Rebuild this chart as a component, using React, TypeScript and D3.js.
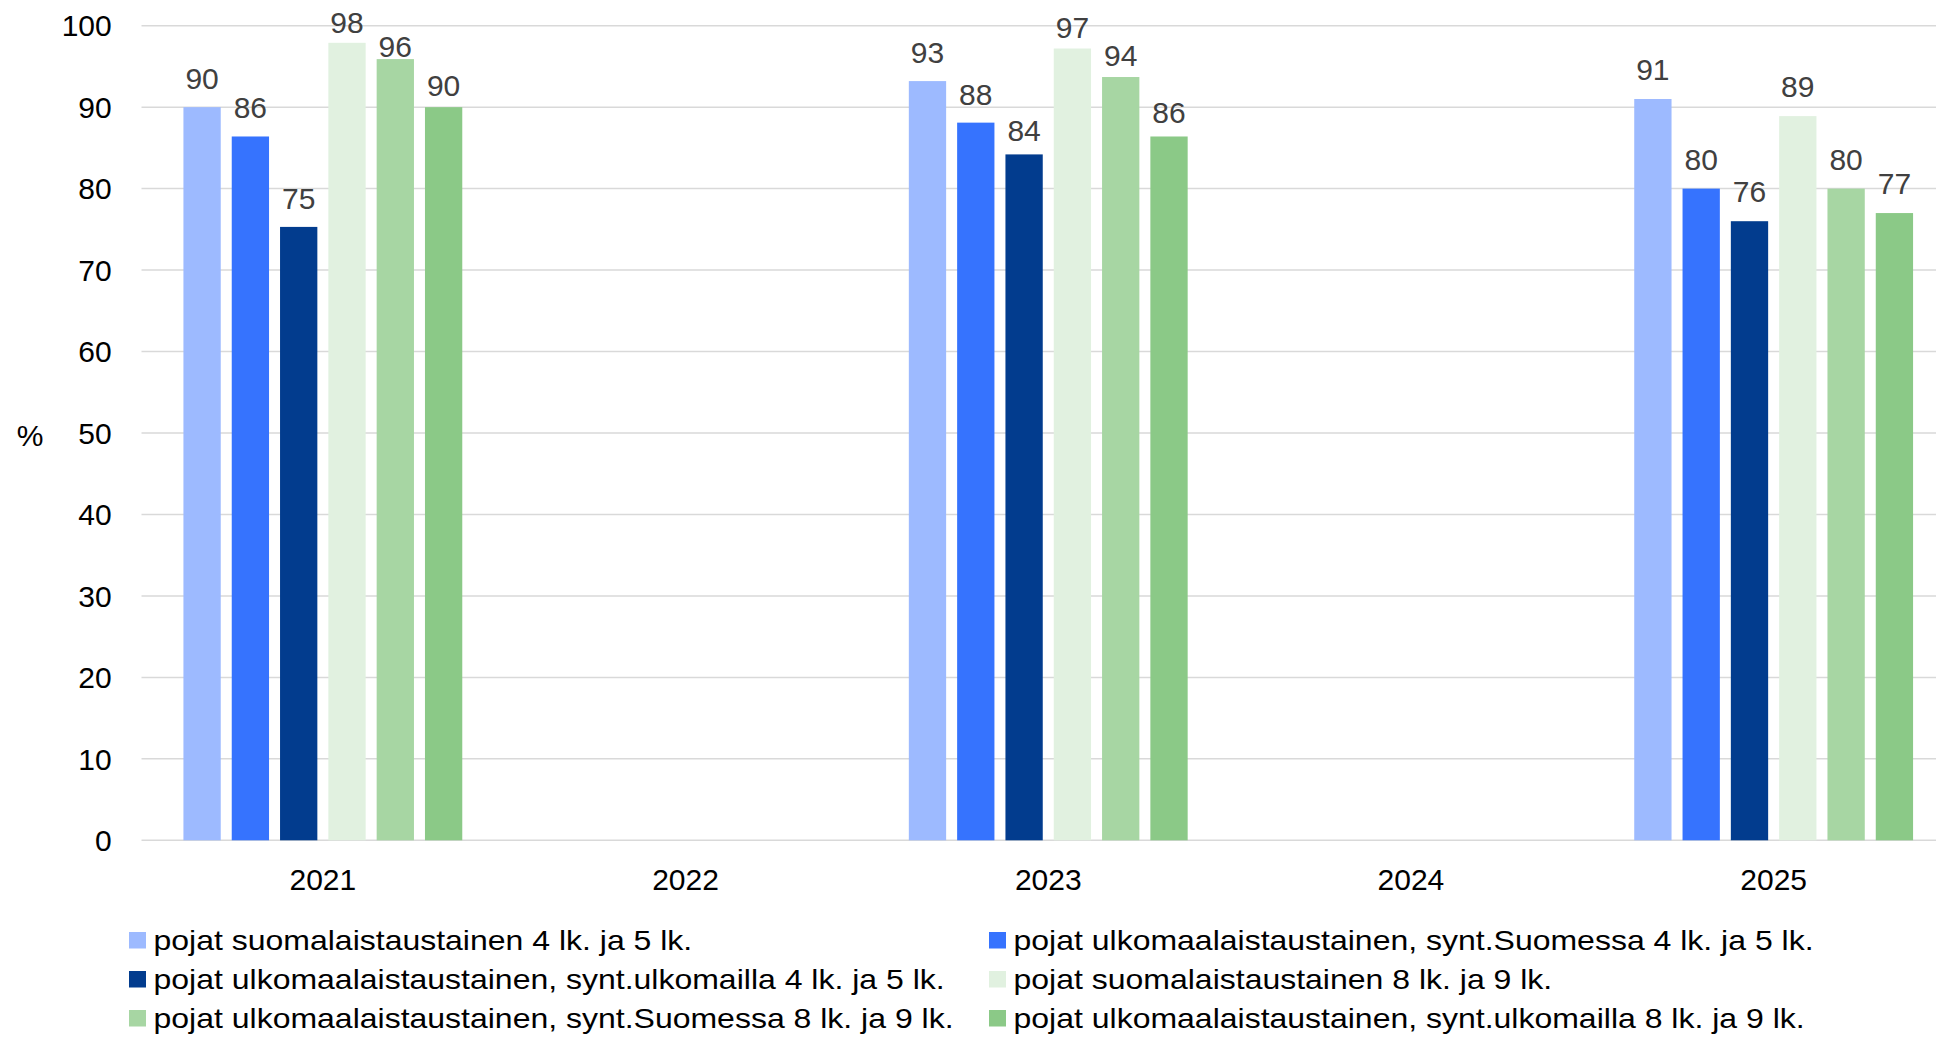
import React from "react";
import * as d3 from "d3";

const years = ["2021", "2022", "2023", "2024", "2025"];
const seriesNames = [
  "pojat suomalaistaustainen 4 lk. ja 5 lk.",
  "pojat ulkomaalaistaustainen, synt.Suomessa 4 lk. ja 5 lk.",
  "pojat ulkomaalaistaustainen, synt.ulkomailla 4 lk. ja 5 lk.",
  "pojat suomalaistaustainen 8 lk. ja 9 lk.",
  "pojat ulkomaalaistaustainen, synt.Suomessa 8 lk. ja 9 lk.",
  "pojat ulkomaalaistaustainen, synt.ulkomailla 8 lk. ja 9 lk.",
];
const colors = ["#9dbaff", "#3673fe", "#023c8e", "#e1f1e0", "#a7d6a3", "#8bc987"];
// values per series, indexed by year (null = no data)
const s1 = [90.0, null, 93.2, null, 91.0];
const s2 = [86.4, null, 88.1, null, 80.0];
const s3 = [75.3, null, 84.2, null, 76.0];
const s4 = [97.9, null, 97.2, null, 88.9];
const s5 = [95.9, null, 93.7, null, 80.0];
const s6 = [90.0, null, 86.4, null, 77.0];
const seriesValues = [s1, s2, s3, s4, s5, s6];
const yTicks = [0, 10, 20, 30, 40, 50, 60, 70, 80, 90, 100];

// label gap (px) between bar top and label baseline, as placed in the reference
const labelGaps = [
  [18, 0, 18, 0, 18.6],
  [18.7, 0, 18, 0, 18.6],
  [18.3, 0, 13.3, 0, 19.4],
  [10, 0, 10.7, 0, 19.3],
  [2.3, 0, 10.7, 0, 18.6],
  [11, 0, 13, 0, 18.7],
];

const W = 1936;
const H = 1039;
const font = "'Liberation Sans', Arial, sans-serif";

export default function App() {
  const y = d3.scaleLinear().domain([0, 100]).range([840.3, 25.7]);
  const x = d3.scaleBand().domain(years).range([141.5, 1955]).paddingInner(0).paddingOuter(0);
  const inner = d3
    .scaleBand()
    .domain(seriesNames)
    .range([0, x.bandwidth()])
    .paddingInner(11 / 48.3)
    .paddingOuter(0.868);

  const legendCols = [129, 989];
  const legendRows = [950, 989, 1028];

  return (
    <svg
      width={W}
      height={H}
      style={{ position: "absolute", left: 0, top: 0, background: "#fff" }}
      fontFamily={font}
    >
      {yTicks.map((t) => (
        <g key={t}>
          <line x1={141.5} x2={W} y1={y(t)} y2={y(t)} stroke="#d9d9d9" strokeWidth={1.5} />
          <text x={111.7} y={y(t)} dy={10.7} textAnchor="end" fontSize={30} fill="#000">
            {t}
          </text>
        </g>
      ))}
      <text x={16.7} y={446} fontSize={30} fill="#000">
        %
      </text>
      {years.map((yr) => (
        <text key={yr} x={(x(yr) as number) + x.bandwidth() / 2} y={890} textAnchor="middle" fontSize={30} fill="#000">
          {yr}
        </text>
      ))}
      {seriesNames.map((name, si) =>
        years.map((yr, yi) => {
          const v = seriesValues[si][yi];
          if (v === null) return null;
          const bx = (x(yr) as number) + (inner(name) as number);
          return (
            <g key={name + yr}>
              <rect x={bx} y={y(v)} width={inner.bandwidth()} height={y(0) - y(v)} fill={colors[si]} />
              <text
                x={bx + inner.bandwidth() / 2}
                y={y(v) - labelGaps[si][yi]}
                textAnchor="middle"
                fontSize={30}
                fill="#404040"
              >
                {Math.round(v)}
              </text>
            </g>
          );
        })
      )}
      {seriesNames.map((name, i) => {
        const col = i % 2;
        const row = Math.floor(i / 2);
        const lx = legendCols[col];
        const ly = legendRows[row];
        return (
          <g key={name}>
            <rect x={lx} y={ly - 18} width={17} height={16.5} fill={colors[i]} />
            <text
              transform={`translate(${lx + 24.5},${ly}) scale(1.185,1)`}
              fontSize={27}
              fill="#000"
            >
              {name}
            </text>
          </g>
        );
      })}
    </svg>
  );
}
